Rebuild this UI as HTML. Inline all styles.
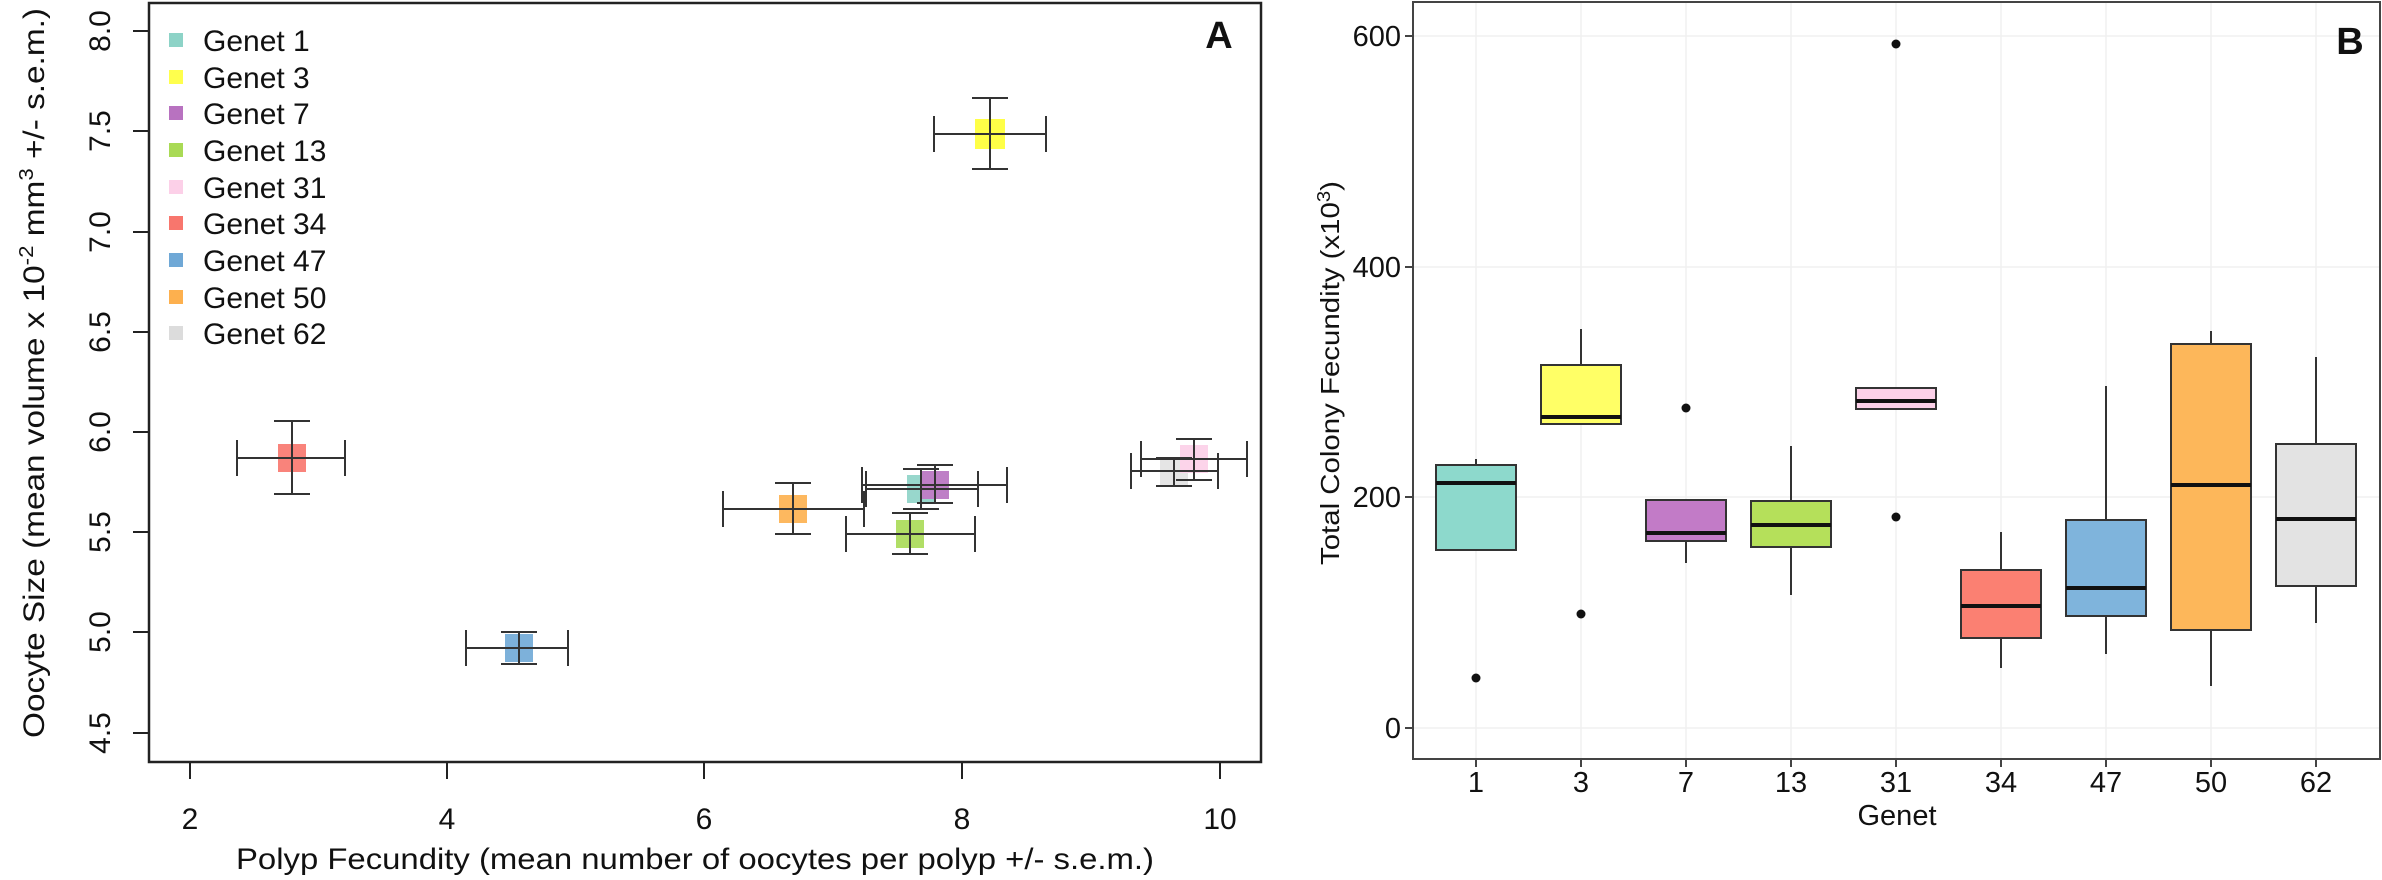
<!DOCTYPE html>
<html><head><meta charset="utf-8"><style>
html,body{margin:0;padding:0;background:#fff}
svg{display:block}
text{font-family:"Liberation Sans",Arial,sans-serif;fill:#111}
</style></head><body>
<svg width="2382" height="880" viewBox="0 0 2382 880" xmlns="http://www.w3.org/2000/svg">
<!-- Panel A -->
<rect x="149" y="3" width="1112" height="759" fill="none" stroke="#222" stroke-width="2.5"/>
<g stroke="#222" stroke-width="2">
<line x1="133" y1="31" x2="149" y2="31"/><line x1="133" y1="131" x2="149" y2="131"/>
<line x1="133" y1="232" x2="149" y2="232"/><line x1="133" y1="332" x2="149" y2="332"/>
<line x1="133" y1="432" x2="149" y2="432"/><line x1="133" y1="532" x2="149" y2="532"/>
<line x1="133" y1="632" x2="149" y2="632"/><line x1="133" y1="733" x2="149" y2="733"/>
<line x1="190" y1="762" x2="190" y2="779"/><line x1="447" y1="762" x2="447" y2="779"/>
<line x1="704" y1="762" x2="704" y2="779"/><line x1="962" y1="762" x2="962" y2="779"/>
<line x1="1220" y1="762" x2="1220" y2="779"/>
</g>
<g font-size="30" text-anchor="middle">
<text transform="translate(110,31) rotate(-90)">8.0</text>
<text transform="translate(110,131) rotate(-90)">7.5</text>
<text transform="translate(110,232) rotate(-90)">7.0</text>
<text transform="translate(110,332) rotate(-90)">6.5</text>
<text transform="translate(110,432) rotate(-90)">6.0</text>
<text transform="translate(110,532) rotate(-90)">5.5</text>
<text transform="translate(110,632) rotate(-90)">5.0</text>
<text transform="translate(110,733) rotate(-90)">4.5</text>
<text x="190" y="829">2</text><text x="447" y="829">4</text><text x="704" y="829">6</text>
<text x="962" y="829">8</text><text x="1220" y="829">10</text>
<text x="695" y="869" textLength="918" lengthAdjust="spacingAndGlyphs">Polyp Fecundity (mean number of oocytes per polyp +/- s.e.m.)</text>
<text transform="translate(44,373) rotate(-90)" textLength="730" lengthAdjust="spacingAndGlyphs">Oocyte Size (mean volume x 10<tspan dy="-11" font-size="20">-2</tspan><tspan dy="11"> mm</tspan><tspan dy="-11" font-size="20">3</tspan><tspan dy="11"> +/- s.e.m.)</tspan></text>
</g>
<text x="1219" y="48" font-size="38" font-weight="bold" text-anchor="middle">A</text>
<!-- legend -->
<g font-size="30">
<rect x="169" y="33" width="14" height="14" fill="#8dd3c7"/><text x="203" y="51">Genet 1</text>
<rect x="169" y="70" width="14" height="14" fill="#ffff4d"/><text x="203" y="88">Genet 3</text>
<rect x="169" y="106" width="14" height="14" fill="#b872c0"/><text x="203" y="124">Genet 7</text>
<rect x="169" y="143" width="14" height="14" fill="#a9da55"/><text x="203" y="161">Genet 13</text>
<rect x="169" y="180" width="14" height="14" fill="#fcd0e8"/><text x="203" y="198">Genet 31</text>
<rect x="169" y="216" width="14" height="14" fill="#f8766d"/><text x="203" y="234">Genet 34</text>
<rect x="169" y="253" width="14" height="14" fill="#6fa8d6"/><text x="203" y="271">Genet 47</text>
<rect x="169" y="290" width="14" height="14" fill="#fdb04e"/><text x="203" y="308">Genet 50</text>
<rect x="169" y="326" width="14" height="14" fill="#dcdcdc"/><text x="203" y="344">Genet 62</text>
</g>
<!-- points -->
<g opacity="0.9">
<rect x="278" y="444" width="28" height="28" fill="#f8766d"/>
<rect x="505" y="634" width="28" height="28" fill="#6fa8d6"/>
<rect x="779" y="495" width="28" height="28" fill="#fdb04e"/>
<rect x="896" y="520" width="28" height="28" fill="#a9da55"/>
<rect x="907" y="475" width="28" height="28" fill="#8dd3c7"/>
<rect x="921" y="471" width="28" height="28" fill="#b872c0"/>
<rect x="1160" y="457" width="28" height="28" fill="#e3e3e3"/>
<rect x="1180" y="445" width="28" height="28" fill="#fcd0e8"/>
<rect x="975" y="119" width="30" height="30" fill="#ffff33"/>
</g>
<g stroke="#333" stroke-width="2" fill="none">
<path d="M237 458H345M237 440V476M345 440V476M292 421V494M274 421H310M274 494H310"/>
<path d="M466 648H568M466 630V666M568 630V666M519 632V664M501 632H537M501 664H537"/>
<path d="M723 509H864M723 491V527M864 491V527M793 483V534M775 483H811M775 534H811"/>
<path d="M846 534H975M846 516V552M975 516V552M910 513V554M892 513H928M892 554H928"/>
<path d="M866 489H978M866 471V507M978 471V507M921 469V509M903 469H939M903 509H939"/>
<path d="M862 485H1007M862 467V503M1007 467V503M935 465V503M917 465H953M917 503H953"/>
<path d="M1131 471H1218M1131 453V489M1218 453V489M1174 458V486M1156 458H1192M1156 486H1192"/>
<path d="M1141 459H1247M1141 441V477M1247 441V477M1194 439V480M1176 439H1212M1176 480H1212"/>
<path d="M934 134H1046M934 116V152M1046 116V152M990 98V169M972 98H1008M972 169H1008"/>
</g>
<!-- Panel B -->
<g stroke="#f0f0f0" stroke-width="1.5">
<line x1="1414" y1="728" x2="2379" y2="728"/><line x1="1414" y1="497" x2="2379" y2="497"/>
<line x1="1414" y1="267" x2="2379" y2="267"/><line x1="1414" y1="36" x2="2379" y2="36"/>
<line x1="1476" y1="3" x2="1476" y2="759"/><line x1="1581" y1="3" x2="1581" y2="759"/>
<line x1="1686" y1="3" x2="1686" y2="759"/><line x1="1791" y1="3" x2="1791" y2="759"/>
<line x1="1896" y1="3" x2="1896" y2="759"/><line x1="2001" y1="3" x2="2001" y2="759"/>
<line x1="2106" y1="3" x2="2106" y2="759"/><line x1="2211" y1="3" x2="2211" y2="759"/>
<line x1="2316" y1="3" x2="2316" y2="759"/>
</g>
<rect x="1413" y="2" width="967" height="757" fill="none" stroke="#444" stroke-width="2"/>
<g stroke="#444" stroke-width="2">
<line x1="1405" y1="36" x2="1413" y2="36"/><line x1="1405" y1="267" x2="1413" y2="267"/>
<line x1="1405" y1="497" x2="1413" y2="497"/><line x1="1405" y1="728" x2="1413" y2="728"/>
<line x1="1476" y1="759" x2="1476" y2="767"/><line x1="1581" y1="759" x2="1581" y2="767"/>
<line x1="1686" y1="759" x2="1686" y2="767"/><line x1="1791" y1="759" x2="1791" y2="767"/>
<line x1="1896" y1="759" x2="1896" y2="767"/><line x1="2001" y1="759" x2="2001" y2="767"/>
<line x1="2106" y1="759" x2="2106" y2="767"/><line x1="2211" y1="759" x2="2211" y2="767"/>
<line x1="2316" y1="759" x2="2316" y2="767"/>
</g>
<g font-size="29" text-anchor="end">
<text x="1401" y="46">600</text><text x="1401" y="277">400</text>
<text x="1401" y="507">200</text><text x="1401" y="738">0</text>
</g>
<g font-size="29" text-anchor="middle">
<text x="1476" y="792">1</text><text x="1581" y="792">3</text><text x="1686" y="792">7</text>
<text x="1791" y="792">13</text><text x="1896" y="792">31</text><text x="2001" y="792">34</text>
<text x="2106" y="792">47</text><text x="2211" y="792">50</text><text x="2316" y="792">62</text>
<text x="1897" y="825">Genet</text>
<text transform="translate(1339,373) rotate(-90)" font-size="26" textLength="384" lengthAdjust="spacingAndGlyphs">Total Colony Fecundity (x10<tspan dy="-9" font-size="18">3</tspan><tspan dy="9">)</tspan></text>
</g>
<text x="2350" y="54" font-size="38" font-weight="bold" text-anchor="middle">B</text>
<g stroke="#333" stroke-width="2">
<line x1="1476" y1="459" x2="1476" y2="465"/>
<line x1="1581" y1="329" x2="1581" y2="365"/>
<line x1="1686" y1="541" x2="1686" y2="563"/>
<line x1="1791" y1="446" x2="1791" y2="595"/>
<line x1="2001" y1="532" x2="2001" y2="668"/>
<line x1="2106" y1="386" x2="2106" y2="654"/>
<line x1="2211" y1="331" x2="2211" y2="686"/>
<line x1="2316" y1="357" x2="2316" y2="623"/>
</g>
<g stroke="#333" stroke-width="2">
<rect x="1436" y="465" width="80" height="85" fill="#8dd9cc"/>
<rect x="1541" y="365" width="80" height="59" fill="#ffff66"/>
<rect x="1646" y="500" width="80" height="41" fill="#c27bc7"/>
<rect x="1751" y="501" width="80" height="46" fill="#b5e05a"/>
<rect x="1856" y="388" width="80" height="21" fill="#fcd0e8"/>
<rect x="1961" y="570" width="80" height="68" fill="#fb8072"/>
<rect x="2066" y="520" width="80" height="96" fill="#7fb4dc"/>
<rect x="2171" y="344" width="80" height="286" fill="#fdb75a"/>
<rect x="2276" y="444" width="80" height="142" fill="#e3e3e3"/>
</g>
<g stroke="#111" stroke-width="4">
<line x1="1436" y1="483" x2="1516" y2="483"/>
<line x1="1541" y1="417" x2="1621" y2="417"/>
<line x1="1646" y1="533" x2="1726" y2="533"/>
<line x1="1751" y1="525" x2="1831" y2="525"/>
<line x1="1856" y1="401" x2="1936" y2="401"/>
<line x1="1961" y1="606" x2="2041" y2="606"/>
<line x1="2066" y1="588" x2="2146" y2="588"/>
<line x1="2171" y1="485" x2="2251" y2="485"/>
<line x1="2276" y1="519" x2="2356" y2="519"/>
</g>
<g fill="#111">
<circle cx="1476" cy="678" r="4.5"/><circle cx="1581" cy="614" r="4.5"/>
<circle cx="1686" cy="408" r="4.5"/><circle cx="1896" cy="44" r="4.5"/>
<circle cx="1896" cy="517" r="4.5"/>
</g>
</svg>
</body></html>
